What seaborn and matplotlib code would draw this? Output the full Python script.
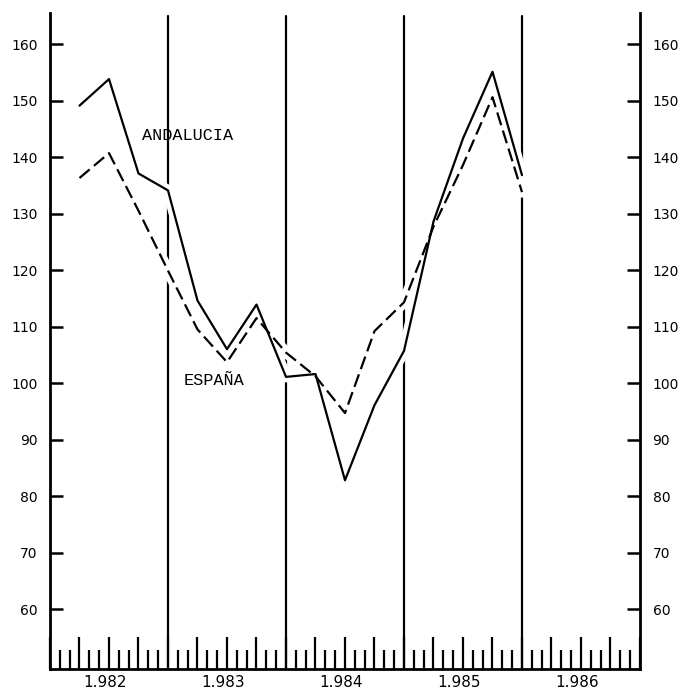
# Indice trimestral: Andalucia frente a Espana, 1982-1986
import numpy as np
import pandas as pd
import matplotlib
matplotlib.use("Agg")
import matplotlib.pyplot as plt
import matplotlib.ticker as mticker
import seaborn as sns

# Fin de cada trimestre (anio + trimestre/4)
periodos = [1982.25, 1982.50, 1982.75, 1983.00,
            1983.25, 1983.50, 1983.75, 1984.00,
            1984.25, 1984.50, 1984.75, 1985.00,
            1985.25, 1985.50, 1985.75, 1986.00]
andalucia = [149.1, 153.8, 137.1, 134.1, 114.6, 106.0, 113.9, 101.1,
             101.6, 82.8, 96.1, 105.7, 128.6, 143.3, 155.1, 136.8]
espana = [136.3, 140.7, 130.5, 119.9, 109.5, 103.7, 111.5, 105.4,
          101.2, 94.7, 109.2, 114.3, 127.7, 138.6, 150.6, 133.8]
anios = [1982, 1983, 1984, 1985, 1986]
yticks = [60, 70, 80, 90, 100, 110, 120, 130, 140, 150, 160]


def build_frame():
    # Long format table for seaborn
    return pd.DataFrame({
        "periodo": periodos * 2,
        "indice": andalucia + espana,
        "serie": ["ANDALUCIA"] * len(andalucia) + ["ESPAÑA"] * len(espana),
    })


def main():
    sns.set_style("white")
    plt.rcParams["font.family"] = ["DejaVu Sans"]
    plt.rcParams["text.color"] = "black"
    plt.rcParams["axes.labelcolor"] = "black"
    plt.rcParams["xtick.color"] = "black"
    plt.rcParams["ytick.color"] = "black"

    df = build_frame()

    fig = plt.figure(figsize=(6.79, 6.89), dpi=100)
    ax = fig.add_axes([50 / 679, 20 / 689, 590 / 679, 656 / 689])
    ax.set_xlim(1982, 1987)
    ax.set_ylim(49.4, 165.5)

    # Year separators
    for a in anios[1:]:
        ax.axvline(a, ymax=0.995, color="black", lw=1.6, zorder=1)

    # White halo so the separators break where the curves cross
    sns.lineplot(data=df, x="periodo", y="indice", units="serie", estimator=None,
                 color="white", lw=8, legend=False, ax=ax, zorder=2)
    sns.lineplot(data=df, x="periodo", y="indice", style="serie",
                 dashes={"ANDALUCIA": "", "ESPAÑA": (6, 2.5)},
                 color="black", lw=1.6, legend=False, ax=ax, zorder=3)

    ax.text(1982.78, 143.9, "ANDALUCIA", family="Liberation Mono", fontsize=12.2,
            va="center", ha="left", zorder=4)
    ax.text(1983.13, 100.5, "ESPAÑA", family="Liberation Mono", fontsize=12.2,
            va="center", ha="left", zorder=4)

    # Spines
    ax.spines["top"].set_visible(False)
    for side in ["left", "right", "bottom"]:
        ax.spines[side].set_linewidth(2)
        ax.spines[side].set_color("black")

    # Monthly ticks on the time axis, taller at quarters
    ax.xaxis.set_major_locator(mticker.MultipleLocator(0.25))
    ax.xaxis.set_minor_locator(mticker.MultipleLocator(1 / 12))
    ax.tick_params(axis="x", which="major", direction="in", length=23, width=1.6,
                   bottom=True, labelbottom=False)
    ax.tick_params(axis="x", which="minor", direction="in", length=13.5, width=1.6,
                   bottom=True)
    for a in anios:
        ax.text(a + 0.47, -0.021, f"{a // 1000}.{a % 1000:03d}",
                transform=ax.get_xaxis_transform(), ha="center", va="center",
                fontsize=11, family="DejaVu Sans")

    ax.set_ylabel("")
    ax.set_xlabel("")
    ax.set_yticks(yticks)
    ax.tick_params(axis="y", which="major", direction="in", length=9.5, width=1.8,
                   left=True, right=True, labelleft=True, labelright=True,
                   labelsize=10, pad=9)

    plt.savefig("out.png", dpi=100)
    plt.close()


if __name__ == "__main__":
    main()
